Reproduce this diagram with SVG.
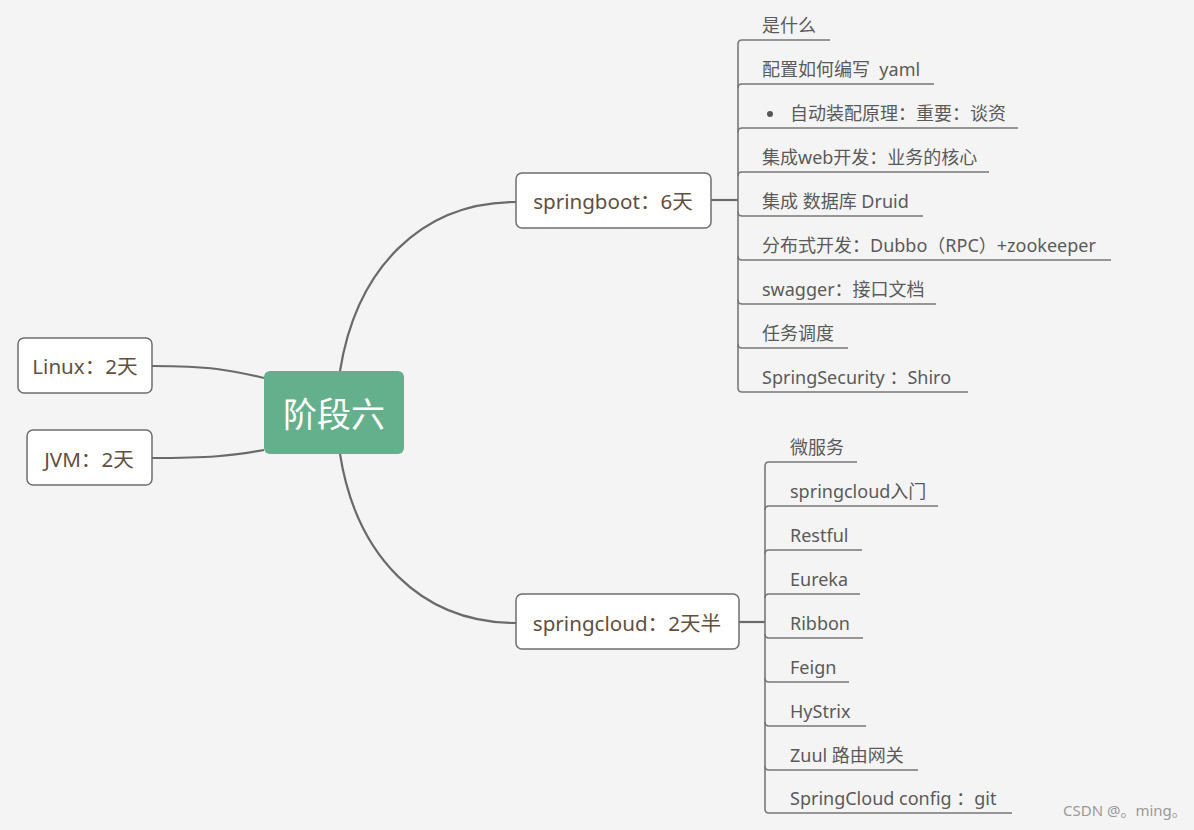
<svg xmlns="http://www.w3.org/2000/svg" width="1194" height="830" viewBox="0 0 1194 830">
<style>
text{font-family:"Noto Sans","Noto Sans CJK SC",sans-serif}
.box{fill:#ffffff;stroke:#6e6e6e;stroke-width:1.5}
.nt{font-size:20.6px;fill:#5f5040;text-anchor:middle;dominant-baseline:central}
.ct{font-size:18px;fill:#5a5a5a}
.cn{fill:none;stroke:#6a6a6a;stroke-width:2.2}
.ln{fill:none;stroke:#777;stroke-width:1.6}
</style>
<rect width="1194" height="830" fill="#f4f4f4"/>
<g id="connectors">
<path class="cn" d="M152,366 C210,366 230,370 264,378"/>
<path class="cn" d="M152,458 C210,458 230,456 264,450"/>
<path class="cn" d="M340,371 C356,270 420,202 516,202"/>
<path class="cn" d="M340,454 C356,555 420,623 516,623"/>
<path class="cn" d="M711,200 H738"/>
<path class="cn" d="M739,622 H765"/>
<g id="springboot-children-lines">
<path class="ln" d="M738,44 V388"/>
<path class="ln" d="M738,44 Q738,40 742,40 H830"/>
<path class="ln" d="M738,88 Q738,84 742,84 H934"/>
<path class="ln" d="M738,132 Q738,128 742,128 H1018"/>
<path class="ln" d="M738,176 Q738,172 742,172 H989"/>
<path class="ln" d="M738,212 Q738,216 742,216 H923"/>
<path class="ln" d="M738,256 Q738,260 742,260 H1111"/>
<path class="ln" d="M738,300 Q738,304 742,304 H936"/>
<path class="ln" d="M738,344 Q738,348 742,348 H848"/>
<path class="ln" d="M738,388 Q738,392 742,392 H968"/>
</g>
<g id="springcloud-children-lines">
<path class="ln" d="M765,466 V809"/>
<path class="ln" d="M765,466 Q765,462 769,462 H857"/>
<path class="ln" d="M765,510 Q765,506 769,506 H938"/>
<path class="ln" d="M765,554 Q765,550 769,550 H862"/>
<path class="ln" d="M765,598 Q765,594 769,594 H860"/>
<path class="ln" d="M765,634 Q765,638 769,638 H863"/>
<path class="ln" d="M765,678 Q765,682 769,682 H849"/>
<path class="ln" d="M765,722 Q765,726 769,726 H866"/>
<path class="ln" d="M765,766 Q765,770 769,770 H918"/>
<path class="ln" d="M765,809 Q765,813 769,813 H1012"/>
</g>
</g>
<g id="root">
<rect x="264" y="371" width="140" height="83" rx="6" fill="#64b08c"/>
<text x="334" y="414" style="font-size:34px;fill:#ffffff;text-anchor:middle;dominant-baseline:central">阶段六</text>
</g>
<g id="linux">
<rect class="box" x="18" y="338" width="134" height="55" rx="6"/>
<text class="nt" x="85" y="366">Linux：2天</text>
</g>
<g id="jvm">
<rect class="box" x="27" y="430" width="125" height="55" rx="6"/>
<text class="nt" x="89" y="459">JVM：2天</text>
</g>
<g id="springboot">
<rect class="box" x="516" y="173" width="195" height="55" rx="6"/>
<text class="nt" x="613" y="201">springboot：6天</text>
</g>
<g id="springcloud">
<rect class="box" x="516" y="594" width="223" height="55" rx="6"/>
<text class="nt" x="627" y="623">springcloud：2天半</text>
</g>
<g id="springboot-children">
<text class="ct" x="762" y="32">是什么</text>
<text class="ct" x="762" y="76" xml:space="preserve">配置如何编写  yaml</text>
<circle cx="770" cy="114" r="3" fill="#555"/>
<text class="ct" x="790" y="120">自动装配原理：重要：谈资</text>
<text class="ct" x="762" y="164">集成web开发：业务的核心</text>
<text class="ct" x="762" y="208">集成 数据库 Druid</text>
<text class="ct" x="762" y="252">分布式开发：Dubbo（RPC）+zookeeper</text>
<text class="ct" x="762" y="296">swagger：接口文档</text>
<text class="ct" x="762" y="340">任务调度</text>
<text class="ct" x="762" y="384">SpringSecurity ：Shiro</text>
</g>
<g id="springcloud-children">
<text class="ct" x="790" y="454">微服务</text>
<text class="ct" x="790" y="498">springcloud入门</text>
<text class="ct" x="790" y="542">Restful</text>
<text class="ct" x="790" y="586">Eureka</text>
<text class="ct" x="790" y="630">Ribbon</text>
<text class="ct" x="790" y="674">Feign</text>
<text class="ct" x="790" y="718">HyStrix</text>
<text class="ct" x="790" y="762">Zuul 路由网关</text>
<text class="ct" x="790" y="805">SpringCloud config ：git</text>
</g>
<text x="1063" y="816" style="font-size:15px;fill:#9a9a9a">CSDN @。ming。</text>
</svg>
